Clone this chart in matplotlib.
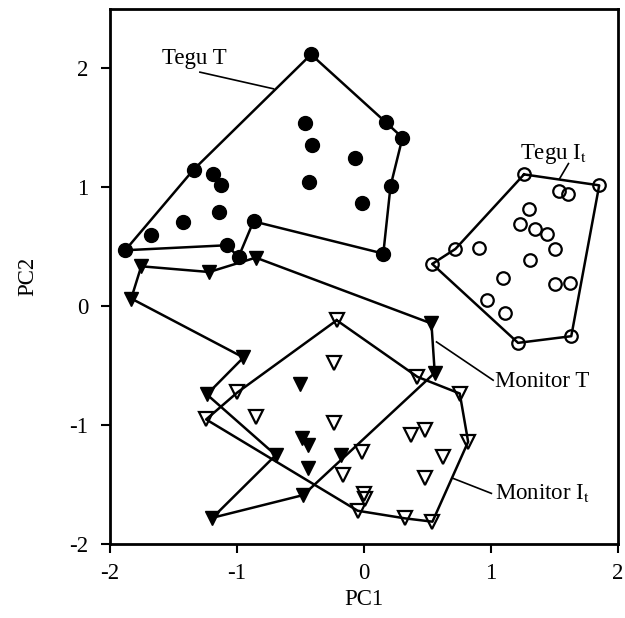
"""PCA scores for tegu and monitor groups (PC1 vs PC2) with group outlines."""
import matplotlib
matplotlib.use("Agg")
import matplotlib.pyplot as plt

plt.rcParams["font.family"] = ["Liberation Serif", "DejaVu Serif"]
plt.rcParams["mathtext.fontset"] = "stix"
plt.rcParams["axes.unicode_minus"] = False

# Tegu T (filled circles): outline vertices in drawing order, then inner points
tegu_t_outline_x = [-1.880, -1.080, -0.988, -0.870, 0.152, 0.209, 0.303, 0.170, -0.417, -1.342]
tegu_t_outline_y = [0.471, 0.513, 0.414, 0.714, 0.443, 1.011, 1.418, 1.549, 2.118, 1.149]
tegu_t_inner_x = [-1.678, -1.429, -1.190, -1.125, -1.141, -0.465, -0.412, -0.430, -0.072, -0.013]
tegu_t_inner_y = [0.602, 0.706, 1.115, 1.023, 0.792, 1.544, 1.353, 1.045, 1.250, 0.871]

# Tegu It (open circles)
tegu_i_outline_x = [1.260, 1.852, 1.632, 1.213, 0.537, 0.720]
tegu_i_outline_y = [1.109, 1.017, -0.252, -0.308, 0.356, 0.482]
tegu_i_inner_x = [1.538, 1.606, 1.299, 1.231, 1.344, 1.441, 1.506, 0.903, 1.310, 1.095,
                  1.501, 1.619, 0.972, 1.111]
tegu_i_inner_y = [0.969, 0.941, 0.821, 0.695, 0.647, 0.605, 0.485, 0.493, 0.392, 0.241,
                  0.185, 0.196, 0.050, -0.061]

# Monitor T (filled triangles)
mon_t_outline_x = [-1.754, -1.219, -0.852, 0.531, 0.557, -0.478, -1.193, -0.695, -1.237,
                   -0.949, -1.833]
mon_t_outline_y = [0.336, 0.288, 0.409, -0.145, -0.560, -1.588, -1.779, -1.252, -0.742,
                   -0.431, 0.065]
mon_t_inner_x = [-0.504, -0.491, -0.443, -0.182, -0.438]
mon_t_inner_y = [-0.650, -1.112, -1.168, -1.247, -1.359]

# Monitor It (open triangles)
mon_i_outline_x = [-0.215, 0.421, 0.754, 0.820, 0.539, 0.322, -0.050, -1.243, -0.997]
mon_i_outline_y = [-0.118, -0.594, -0.734, -1.140, -1.812, -1.784, -1.720, -0.952, -0.725]
mon_i_inner_x = [-0.233, -0.237, 0.374, 0.479, 0.623, -0.014, -0.163, 0.479, 0.000,
                 0.010, -0.850]
mon_i_inner_y = [-0.481, -0.986, -1.084, -1.042, -1.266, -1.224, -1.420, -1.448, -1.580,
                 -1.620, -0.930]

ticks = [-2, -1, 0, 1, 2]

fig = plt.figure(figsize=(6.25, 6.18), dpi=100)
ax = fig.add_axes([0.176, 0.1197, 0.8128, 0.8657])

LW = 1.8


def outline(xs, ys):
    ax.plot(xs + xs[:1], ys + ys[:1], color="black", lw=LW, zorder=2)


def points(xs, ys, marker, filled, ms):
    if filled:
        ax.plot(xs, ys, ls="none", marker=marker, ms=ms, mfc="black", mec="black", zorder=3)
    else:
        ax.plot(xs, ys, ls="none", marker=marker, ms=ms, mfc="none", mec="black",
                mew=1.6, zorder=3)


outline(tegu_t_outline_x, tegu_t_outline_y)
outline(tegu_i_outline_x, tegu_i_outline_y)
outline(mon_t_outline_x, mon_t_outline_y)
outline(mon_i_outline_x, mon_i_outline_y)

points(tegu_t_outline_x + tegu_t_inner_x, tegu_t_outline_y + tegu_t_inner_y, "o", True, 10)
points(tegu_i_outline_x + tegu_i_inner_x, tegu_i_outline_y + tegu_i_inner_y, "o", False, 9)
points(mon_i_outline_x + mon_i_inner_x, mon_i_outline_y + mon_i_inner_y, "v", False, 9.5)
points(mon_t_outline_x + mon_t_inner_x, mon_t_outline_y + mon_t_inner_y, "v", True, 10)

# group labels with leader lines
FS = 16.5
ax.text(-1.332, 2.084, "Tegu T", fontsize=FS, ha="center", va="center")
ax.plot([-1.292, -0.713], [1.969, 1.829], color="black", lw=1.2)
ax.text(1.491, 1.280, "Tegu I$_\\mathrm{t}$", fontsize=FS, ha="center", va="center")
ax.plot([1.610, 1.540], [1.200, 1.073], color="black", lw=1.2)
ax.text(1.035, -0.630, "Monitor T", fontsize=FS, ha="left", va="center")
ax.plot([0.571, 1.017], [-0.300, -0.622], color="black", lw=1.2)
ax.text(1.035, -1.571, "Monitor I$_\\mathrm{t}$", fontsize=FS, ha="left", va="center")
ax.plot([0.702, 1.003], [-1.448, -1.574], color="black", lw=1.2)

ax.set_xlim(-2, 2)
ax.set_ylim(-2, 2.5)
ax.set_xticks(ticks)
ax.set_yticks(ticks)
ax.tick_params(direction="out", length=6.5, width=1.5, labelsize=FS, pad=7)
ax.tick_params(axis="y", pad=9)
for s in ax.spines.values():
    s.set_linewidth(2)
ax.set_xlabel("PC1", fontsize=FS, labelpad=4)
ax.set_ylabel("PC2", fontsize=FS, labelpad=22)

plt.savefig("out.png", dpi=100)
plt.close()
